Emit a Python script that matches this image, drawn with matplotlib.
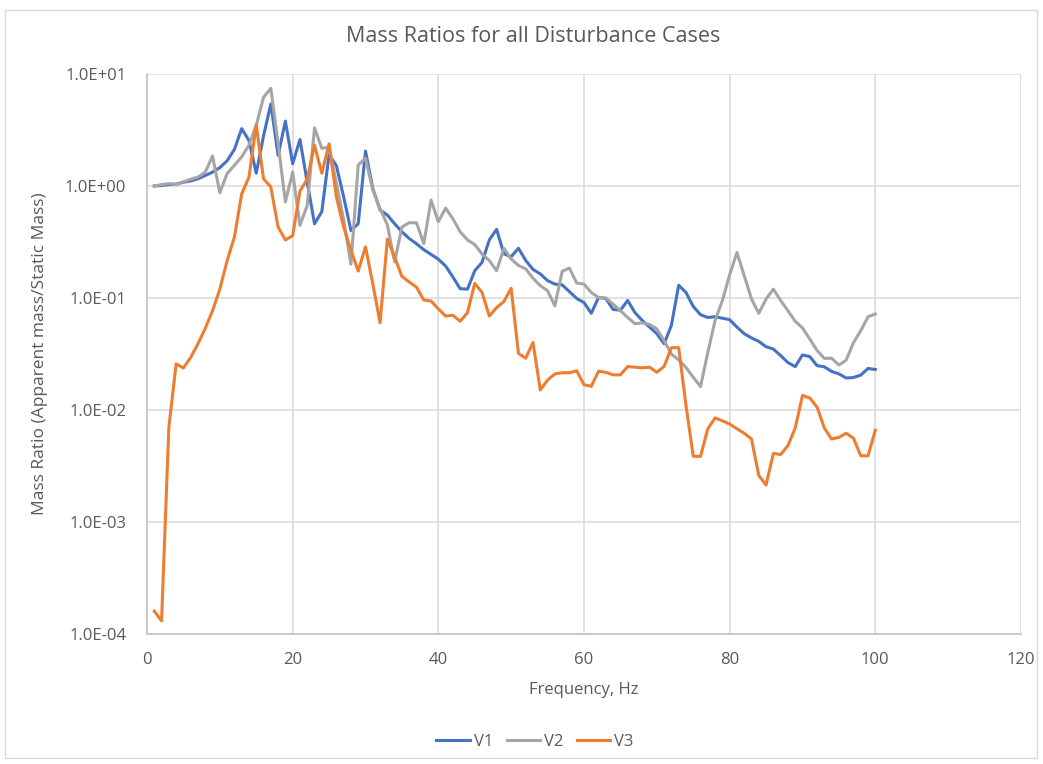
import matplotlib
matplotlib.use("Agg")
import matplotlib.pyplot as plt
from matplotlib.ticker import FixedLocator, FuncFormatter, NullLocator
from matplotlib.patches import Rectangle

# Frequency (Hz) for every sample
freq = list(range(1, 101))

# Mass ratio (apparent mass / static mass) per disturbance case
v1 = [1.0, 1.01, 1.03, 1.04, 1.08, 1.11, 1.16, 1.24, 1.33, 1.46,
      1.68, 2.12, 3.25, 2.55, 1.3, 2.8, 5.4, 1.88, 3.8, 1.58,
      2.6, 1.08, 0.46, 0.59, 1.9, 1.52, 0.8, 0.4, 0.46, 2.05,
      0.95, 0.61, 0.55, 0.46, 0.39, 0.34, 0.305, 0.27, 0.245, 0.222,
      0.193, 0.154, 0.121, 0.12, 0.175, 0.208, 0.33, 0.41, 0.248, 0.234,
      0.278, 0.216, 0.18, 0.164, 0.143, 0.133, 0.131, 0.114, 0.099, 0.091,
      0.073, 0.101, 0.099, 0.079, 0.078, 0.095, 0.074, 0.063, 0.055, 0.048,
      0.039, 0.057, 0.13, 0.112, 0.084, 0.071, 0.067, 0.068, 0.066, 0.064,
      0.055, 0.048, 0.044, 0.041, 0.0367, 0.035, 0.0306, 0.0265, 0.0244, 0.031,
      0.030, 0.0249, 0.0243, 0.0221, 0.021, 0.0193, 0.0195, 0.0205, 0.0235, 0.023]

v2 = [1.0, 1.03, 1.05, 1.03, 1.09, 1.15, 1.2, 1.33, 1.85, 0.87,
      1.29, 1.53, 1.82, 2.31, 3.49, 6.18, 7.45, 2.4, 0.72, 1.33,
      0.445, 0.67, 3.3, 2.17, 2.22, 1.06, 0.5, 0.2, 1.54, 1.77,
      0.92, 0.63, 0.45, 0.21, 0.43, 0.47, 0.47, 0.306, 0.75, 0.48,
      0.635, 0.51, 0.39, 0.33, 0.3, 0.247, 0.216, 0.175, 0.278, 0.223,
      0.195, 0.182, 0.15, 0.129, 0.116, 0.085, 0.173, 0.185, 0.136, 0.133,
      0.112, 0.101, 0.1, 0.088, 0.077, 0.067, 0.059, 0.06, 0.058, 0.053,
      0.0416, 0.0316, 0.028, 0.024, 0.0196, 0.0162, 0.0327, 0.063, 0.095, 0.161,
      0.255, 0.158, 0.098, 0.073, 0.098, 0.12, 0.095, 0.077, 0.062, 0.054,
      0.043, 0.034, 0.0289, 0.029, 0.0252, 0.0279, 0.040, 0.051, 0.068, 0.072]

v3 = [1.6e-4, 1.31e-4, 0.007, 0.0258, 0.0237, 0.0295, 0.039, 0.0536, 0.077, 0.12,
      0.215, 0.35, 0.85, 1.2, 3.5, 1.16, 0.98, 0.43, 0.33, 0.36,
      0.9, 1.15, 2.32, 1.3, 2.38, 0.8, 0.43, 0.267, 0.174, 0.286,
      0.134, 0.06, 0.335, 0.232, 0.156, 0.139, 0.125, 0.096, 0.094, 0.08,
      0.069, 0.07, 0.062, 0.074, 0.135, 0.112, 0.069, 0.082, 0.093, 0.122,
      0.032, 0.029, 0.040, 0.0151, 0.0185, 0.021, 0.0215, 0.0215, 0.0224, 0.0168,
      0.0163, 0.0222, 0.0217, 0.0206, 0.0206, 0.0244, 0.0241, 0.0238, 0.0241, 0.0217,
      0.0245, 0.036, 0.036, 0.011, 0.00386, 0.00386, 0.0068, 0.0085, 0.008, 0.0075,
      0.0068, 0.0062, 0.0055, 0.0026, 0.00214, 0.0041, 0.004, 0.0048, 0.0069, 0.0135,
      0.0128, 0.0106, 0.0069, 0.0055, 0.0057, 0.0062, 0.0056, 0.0039, 0.0039, 0.0066]

series_names = ["V1", "V2", "V3"]
series_colors = ["#4472C4", "#A5A5A5", "#ED7D31"]

x_ticks = [0, 20, 40, 60, 80, 100, 120]
y_ticks = [1e-4, 1e-3, 1e-2, 1e-1, 1e0, 1e1]

title = "Mass Ratios for all Disturbance Cases"
x_label = "Frequency, Hz"
y_label = "Mass Ratio (Apparent mass/Static Mass)"

text_color = "#595959"
grid_color = "#D9D9D9"

W, H = 1043, 764
fig = plt.figure(figsize=(W / 100, H / 100), dpi=100)
left, right, top, bottom = 147, 1021, 74, 634
ax = fig.add_axes([left / W, 1 - bottom / H, (right - left) / W, (bottom - top) / H])

for vals, name, col in zip([v1, v2, v3], series_names, series_colors):
    ax.plot(freq, vals, color=col, lw=2.2, label=name, solid_joinstyle="round")

ax.set_yscale("log")
ax.set_xlim(0, 120)
ax.set_ylim(1e-4, 1e1)
ax.xaxis.set_major_locator(FixedLocator(x_ticks))
ax.yaxis.set_major_locator(FixedLocator(y_ticks))
ax.yaxis.set_minor_locator(NullLocator())
ax.yaxis.set_major_formatter(FuncFormatter(lambda v, p: f"{v:.1E}"))
ax.xaxis.set_major_formatter(FuncFormatter(lambda v, p: f"{v:.0f}"))

ax.grid(True, color=grid_color, lw=1.1)
ax.set_axisbelow(True)
for s in ["top", "right"]:
    ax.spines[s].set_visible(False)
for s in ["left", "bottom"]:
    ax.spines[s].set_color("#BFBFBF")
    ax.spines[s].set_linewidth(1.1)

tick_font = "Open Sans"
ax.tick_params(axis="both", length=0, colors=text_color, labelsize=12)
ax.tick_params(axis="y", pad=15)
ax.tick_params(axis="x", pad=13)
for lab in ax.get_xticklabels() + ax.get_yticklabels():
    lab.set_fontfamily(tick_font)

ax.set_xlabel(x_label, fontsize=12, color=text_color, family="Open Sans")
ax.xaxis.label.set_va("center")
ax.xaxis.set_label_coords(0.5, -(690 - bottom) / (bottom - top))
ax.set_ylabel(y_label, fontsize=12.5, color=text_color, family="Open Sans")
ax.yaxis.label.set_va("center")
ax.yaxis.set_label_coords(-(left - 40) / (right - left), 0.5)

fig.text(533 / W, 1 - 37 / H, title, ha="center", va="center",
         fontsize=15.5, color=text_color, family="Open Sans")

leg = fig.legend(loc="center", bbox_to_anchor=(535 / W, 1 - 742 / H), ncol=3,
                 frameon=False, handlelength=2.0, handletextpad=0.25,
                 columnspacing=0.8, prop={"family": "Open Sans", "size": 12})
for t in leg.get_texts():
    t.set_color(text_color)

fig.add_artist(Rectangle((5 / W, 1 - 758 / H), (1037 - 5) / W, (758 - 10) / H,
                         transform=fig.transFigure, fill=False,
                         edgecolor="#D9D9D9", lw=1))

fig.savefig("out.png", dpi=100, facecolor="white")
